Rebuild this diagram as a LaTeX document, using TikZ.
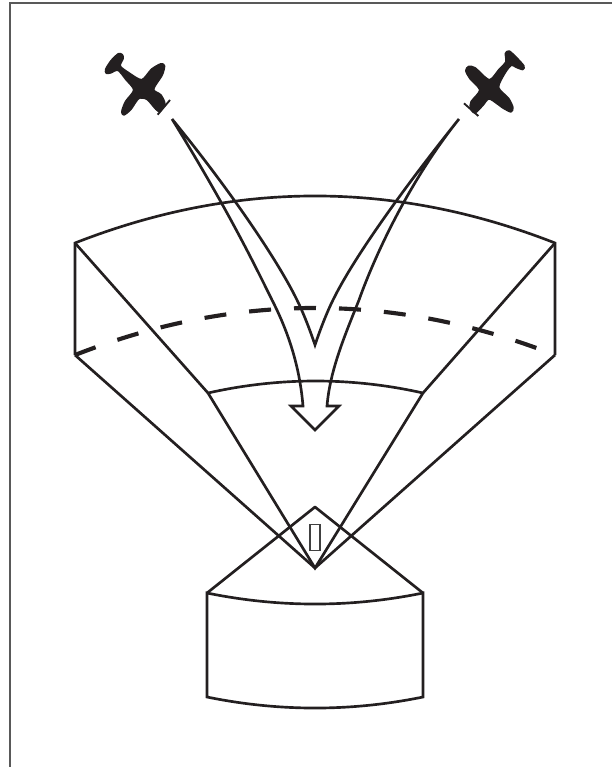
\documentclass[tikz,border=0pt]{standalone}
\definecolor{ink}{HTML}{231F20}
\tikzset{
  edge/.style={draw=ink,line width=2pt,line join=miter,line cap=butt},
  dashedarc/.style={draw=ink,line width=3.1pt,dash pattern=on 16.5pt off 17.25pt},
  frame/.style={draw=black!65,line width=0.8pt},
  plane/.style={fill=ink,draw=ink,line width=1.5pt,line join=round},
  nose/.style={draw=ink,line width=1.4pt}
}
\begin{document}
\begin{tikzpicture}[x=0.75pt,y=-0.75pt]
\useasboundingbox (0,0) rectangle (612,767);
\draw[frame] (10,767) -- (10,3) -- (612,3);
% named points
\coordinate (TL) at (75,243);
\coordinate (TR) at (555,243);
\coordinate (BL) at (75,355);
\coordinate (BR) at (555,355);
\coordinate (IL) at (208,393);
\coordinate (IR) at (423,393);
\coordinate (A) at (315,568);
\coordinate (P) at (315,507);
\coordinate (RL) at (207,593);
\coordinate (RR) at (423,593);
\coordinate (FL) at (207,697);
\coordinate (FR) at (423,697);
% sector volume
\draw[edge] (BL) -- (TL) .. controls (235,180.3) and (395,180.3) .. (TR) -- (BR);
\draw[dashedarc] (BL) .. controls (235,292.3) and (395,292.3) .. (BR);
\draw[edge] (IL) .. controls (279,377) and (352,377) .. (IR);
\draw[edge] (TL) -- (IL) -- (A) -- (IR) -- (TR);
\draw[edge] (BL) -- (A) -- (BR);
% antenna
\draw[edge,line join=round] (RL) -- (P) -- (RR);
\draw[edge] (RL) .. controls (279,607.7) and (351,607.7) .. (RR) -- (FR)
  .. controls (351,711.7) and (279,711.7) .. (FL) -- cycle;
\node[draw=black!75,line width=0.8pt,minimum width=7.5pt,minimum height=19.5pt,inner sep=0pt] (box) at (315,537.5) {};
% double arrow
\draw[edge,line join=miter] (172,119)
  .. controls (222,180) and (275,255) .. (297,300)
  .. controls (303,312) and (310,330) .. (315,345)
  .. controls (320,330) and (327,312) .. (333,300)
  .. controls (355,255) and (410,180) .. (459,119)
  .. controls (410,180) and (375,255) .. (359,300)
  .. controls (345,335) and (330,370) .. (327,406)
  -- (339,406) -- (315,430) -- (291,406) -- (303,406)
  .. controls (300,370) and (290,335) .. (272,300)
  .. controls (250,255) and (222,200) .. (172,119);
% left aircraft
\begin{scope}[shift={(90,30)},x=0.25pt,y=-0.25pt]
\fill[plane] plot[smooth cycle,tension=0.45] coordinates {
 (85,72)(96,74)(99,85)(90,108)(115,128)(155,150)(185,118)(213,102)(223,108)
 (216,135)(190,178)(212,195)(224,222)(205,243)(172,208)(146,205)(122,238)(102,254)
 (96,245)(107,215)(132,180)(108,148)(84,120)(62,128)(49,129)(48,117)(64,92)};
\draw[nose] (203,254) -- (240,210);
\end{scope}
% right aircraft
\begin{scope}[shift={(440,30)},x=0.25pt,y=-0.25pt]
\fill[plane] plot[smooth cycle,tension=0.45] coordinates {
 (197,70)(208,64)(230,84)(251,108)(248,118)(228,111)(214,105)(195,128)(175,172)
 (205,205)(218,232)(213,245)(190,234)(148,206)(128,226)(105,248)(92,235)(94,215)
 (120,180)(90,145)(78,122)(86,110)(105,114)(148,150)(178,118)(198,96)};
\draw[nose] (72,220) -- (115,258);
\end{scope}
\end{tikzpicture}
\end{document}
